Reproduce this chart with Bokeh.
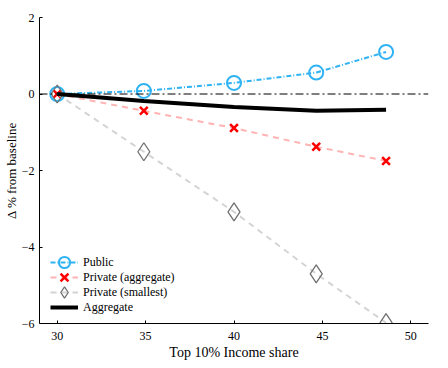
from bokeh.plotting import figure
from bokeh.models import Range1d, FixedTicker, Span, Legend, LegendItem
from bokeh.embed import file_html
from bokeh.resources import INLINE

# Data
income_share = [30.0, 34.9, 40.0, 44.65, 48.6]
public = [0.0, 0.08, 0.29, 0.56, 1.10]
private_aggregate = [0.0, -0.44, -0.89, -1.38, -1.75]
private_smallest = [0.0, -1.51, -3.08, -4.70, -5.98]
aggregate = [0.0, -0.18, -0.34, -0.44, -0.41]

x_ticks = [30, 35, 40, 45, 50]
y_ticks = [-6, -4, -2, 0, 2]

FONT = "'Liberation Serif', serif"

p = figure(width=448, height=368, output_backend="svg", toolbar_location=None,
           x_range=Range1d(29, 51), y_range=Range1d(-6, 2),
           min_border_left=39, min_border_right=20, min_border_top=17, min_border_bottom=45)
p.outline_line_color = None
p.xgrid.visible = False
p.ygrid.visible = False
p.background_fill_color = "white"

for ax in (p.xaxis[0], p.yaxis[0]):
    ax.major_tick_in = 3
    ax.major_tick_out = 0
    ax.minor_tick_line_color = None
    ax.axis_line_color = "black"
    ax.major_tick_line_color = "black"
    ax.major_label_text_font = FONT
    ax.major_label_text_font_size = "12px"
    ax.major_label_text_color = "black"
    ax.axis_label_text_font = FONT
    ax.axis_label_text_font_style = "normal"
    ax.axis_label_text_color = "black"

p.xaxis.ticker = FixedTicker(ticks=x_ticks)
p.yaxis.ticker = FixedTicker(ticks=y_ticks)
p.xaxis.axis_label = "Top 10% Income share"
p.yaxis.axis_label = "Δ % from baseline"
p.xaxis.axis_label_text_font_size = "14px"
p.yaxis.axis_label_text_font_size = "13px"
p.xaxis.major_label_standoff = 8
p.yaxis.major_label_standoff = 5
p.xaxis.axis_label_standoff = 2
p.yaxis.axis_label_standoff = 0

p.add_layout(Span(location=0, dimension="width", line_color="black",
                  line_width=1, line_dash="8 3 2 3"))

BLUE = "#2fb3f3"
l_pub = p.line(income_share, public, line_color=BLUE, line_width=2, line_dash="5 2 1 2")
m_pub = p.scatter(income_share, public, marker="circle", size=14, fill_color=None,
                  line_color=BLUE, line_width=2)

l_pa = p.line(income_share, private_aggregate, line_color="#ffb3b3", line_width=2, line_dash="6 5")
m_pa = p.scatter(income_share, private_aggregate, marker="x", size=11,
                 line_color="#ff0000", line_width=2.5)

l_ps = p.line(income_share, private_smallest, line_color="#d4d4d4", line_width=2, line_dash="6 5")
m_ps = p.scatter(income_share, private_smallest, marker="diamond", size=18, fill_color=None,
                 line_color="#707070", line_width=1.3)

l_ag = p.line(income_share, aggregate, line_color="black", line_width=4)


def make_legend(items, loc):
    lg = Legend(items=items, location=loc)
    lg.padding = 0
    lg.margin = 0
    lg.spacing = 0
    lg.glyph_width = 28
    lg.glyph_height = 30
    lg.label_height = 15
    lg.label_standoff = 5
    lg.border_line_color = None
    lg.background_fill_alpha = 0
    lg.label_text_font = FONT
    lg.label_text_font_size = "12px"
    lg.label_text_color = "black"
    return lg


# Two interleaved legends so rows sit 15px apart while markers keep a readable size
legend_a = make_legend([
    LegendItem(label="Public", renderers=[l_pub, m_pub]),
    LegendItem(label="Private (smallest)", renderers=[l_ps, m_ps]),
], (11, 16))
legend_b = make_legend([
    LegendItem(label="Private (aggregate)", renderers=[l_pa, m_pa]),
    LegendItem(label="Aggregate", renderers=[l_ag]),
], (11, 1))
p.add_layout(legend_a, "center")
p.add_layout(legend_b, "center")

open("out.html", "w").write(file_html(p, INLINE))
